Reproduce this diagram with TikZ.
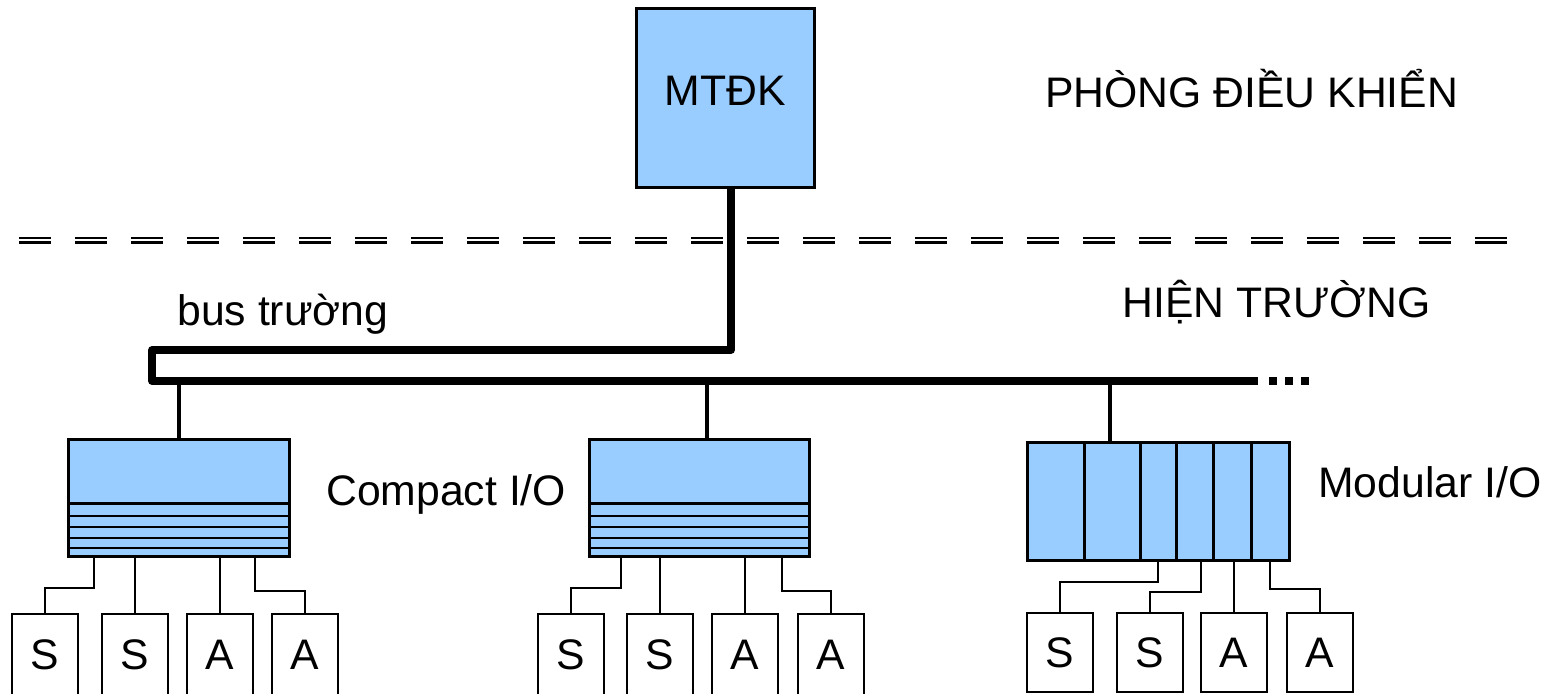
\documentclass[tikz,border=0pt]{standalone}
\usepackage{fontspec}
\setmainfont{Liberation Sans}
\usetikzlibrary{positioning}
\definecolor{ioblue}{HTML}{99CCFF}
\tikzset{
  unit/.style={draw, fill=ioblue, line width=0.6mm, outer sep=0pt, inner sep=0pt},
  dev/.style={draw, line width=0.34mm, outer sep=0pt, inner sep=0pt,
    minimum width=13.2mm, minimum height=16.4mm, anchor=north west,
    font=\fontsize{24.3}{29}\selectfont},
  lbl/.style={anchor=base west, inner sep=0pt, font=\fontsize{24.3}{29}\selectfont},
  wire/.style={line width=0.32mm},
  drop/.style={line width=0.65mm},
  stripe/.style={line width=0.5mm},
  bus/.style={line width=1.5mm, line join=round},
  sep/.style={line width=0.55mm, dash pattern=on 6.4mm off 4.8mm},
}

\begin{document}
\begin{tikzpicture}[x=0.2mm, y=-0.2mm]
  \clip (0,0) rectangle (1558,694);

  % control room / field border
  \draw[sep] (19,238) -- (1507,238);
  \draw[sep] (19,242.7) -- (1507,242.7);

  \node[unit, minimum width=35.6mm, minimum height=35.8mm, text depth=3.2mm,
    font=\fontsize{24.3}{29}\selectfont] (mtdk) at (725,98.5) {MTĐK};
  \node[lbl] (room) at (1045,108) {PHÒNG ĐIỀU KHIỂN};
  \node[lbl] (field) at (1122,318) {HIỆN TRƯỜNG};
  \node[lbl] (buslbl) at (177,326) {bus trường};

  % field bus
  \coordinate (bend) at (152,350);
  \coordinate (busL) at (152,381);
  \coordinate (busR) at (1258,381);
  \draw[bus] ([xshift=1.2mm]mtdk.south) |- (bend) -- (busL) -- (busR);
  \draw[bus, dash pattern=on 1.6mm off 1.6mm] (busR) ++(11,0) -- ++(48,0);
  \coordinate (t1) at (179,381);
  \coordinate (t2) at (707,381);
  \coordinate (t3) at (1110,381);

  % compact I/O
  \node[unit, minimum width=44mm, minimum height=23.4mm] (io1) at (179,497.5) {};
  \node[unit, minimum width=44mm, minimum height=23.4mm] (io2) at (699,497.5) {};
  \foreach \io in {io1,io2} {
    \draw[unit] (\io.south west) ++(0,-53) -- ++(220,0);
    \foreach \d in {8,18,29,40}
      \draw[stripe] (\io.south west) ++(0,-\d) -- ++(220,0);
  }
  \node[lbl] (cpt) at (326,505) {Compact I/O};

  % modular I/O
  \node[unit, minimum width=52.4mm, minimum height=23.6mm] (io3) at (1158,501) {};
  \foreach \d in {57,113,149,186,224}
    \draw[unit] (io3.south west) ++(\d,0) -- ++(0,-118);
  \node[lbl] (mod) at (1318,497) {Modular I/O};

  \draw[drop] (t1) -- (t1 |- io1.north);
  \draw[drop] (t2) -- (t2 |- io2.north);
  \draw[drop] (t3) -- (t3 |- io3.north);

  % sensors and actuators
  \node[dev] (s11) at (12,614) {S};
  \node[dev] (s12) at (102,614) {S};
  \node[dev] (a13) at (187,614) {A};
  \node[dev] (a14) at (272,614) {A};
  \node[dev] (s21) at (538,614) {S};
  \node[dev] (s22) at (627,614) {S};
  \node[dev] (a23) at (712,614) {A};
  \node[dev] (a24) at (798,614) {A};
  \node[dev, minimum height=15.8mm] (s31) at (1027,613) {S};
  \node[dev, minimum height=15.8mm] (s32) at (1117,613) {S};
  \node[dev, minimum height=15.8mm] (a33) at (1201,613) {A};
  \node[dev, minimum height=15.8mm] (a34) at (1287,613) {A};

  \draw[wire] (io1.south west) ++(25,0) -- ++(0,32) -| (s11.north);
  \draw[wire] (s12.north) -- (s12.north |- io1.south);
  \draw[wire] (a13.north) -- (a13.north |- io1.south);
  \draw[wire] (io1.south west) ++(186,0) -- ++(0,35) -| (a14.north);

  \draw[wire] (io2.south west) ++(32,0) -- ++(0,32) -| (s21.north);
  \draw[wire] (s22.north) -- (s22.north |- io2.south);
  \draw[wire] (a23.north) -- (a23.north |- io2.south);
  \draw[wire] (io2.south west) ++(193,0) -- ++(0,35) -| (a24.north);

  \draw[wire] (io3.south west) ++(131,0) -- ++(0,22) -| (s31.north);
  \draw[wire] (io3.south west) ++(174,0) -- ++(0,32) -| (s32.north);
  \draw[wire] (a33.north) -- (a33.north |- io3.south);
  \draw[wire] (io3.south west) ++(243,0) -- ++(0,29) -| (a34.north);
\end{tikzpicture}
\end{document}
